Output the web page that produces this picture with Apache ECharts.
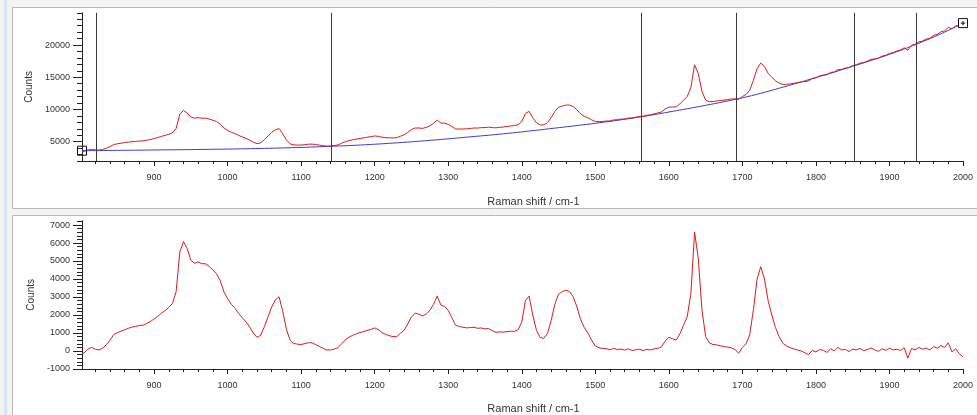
<!DOCTYPE html>
<html><head><meta charset="utf-8">
<script src="https://cdn.jsdelivr.net/npm/echarts@6/dist/echarts.min.js"></script>
<style>html,body{margin:0;padding:0;background:#fff}#c{width:977px;height:415px}</style>
</head><body><div id="c"></div>
<script>
// Raman shift (cm-1) of each sample of the spectrum
const ramanShift = [802,
 805,810,815,820,825,830,835,840,845,850,855,860,865,870,875,880,885,890,895,900,
 905,910,915,920,925,930,935,940,945,950,955,960,965,970,975,980,985,990,995,1000,
 1005,1010,1015,1020,1025,1030,1035,1040,1045,1050,1055,1060,1065,1070,1075,1080,1085,1090,1095,1100,
 1105,1110,1115,1120,1125,1130,1135,1140,1145,1150,1155,1160,1165,1170,1175,1180,1185,1190,1195,1200,
 1205,1210,1215,1220,1225,1230,1235,1240,1245,1250,1255,1260,1265,1270,1275,1280,1285,1290,1295,1300,
 1305,1310,1315,1320,1325,1330,1335,1340,1345,1350,1355,1360,1365,1370,1375,1380,1385,1390,1395,1400,
 1405,1410,1415,1420,1425,1430,1435,1440,1445,1450,1455,1460,1465,1470,1475,1480,1485,1490,1495,1500,
 1505,1510,1515,1520,1525,1530,1535,1540,1545,1550,1555,1560,1565,1570,1575,1580,1585,1590,1595,1600,
 1605,1610,1615,1620,1625,1630,1635,1640,1645,1650,1655,1660,1665,1670,1675,1680,1685,1690,1695,1700,
 1705,1710,1715,1720,1725,1730,1735,1740,1745,1750,1755,1760,1765,1770,1775,1780,1785,1790,1795,1800,
 1805,1810,1815,1820,1825,1830,1835,1840,1845,1850,1855,1860,1865,1870,1875,1880,1885,1890,1895,1900,
 1905,1910,1915,1920,1925,1930,1935,1940,1945,1950,1955,1960,1965,1970,1975,1980,1985,1990,1995,2000];

// Top panel: raw counts (red)
const rawCounts = [3450,
 3500,3700,3810,3720,3680,3780,3980,4240,4540,4670,4760,4840,4930,5000,5040,5110,5120,5230,5340,5490,
 5640,5820,5980,6150,6380,7050,9250,9840,9460,8820,8650,8740,8640,8650,8510,8320,8130,7730,7130,6750,
 6460,6250,5970,5740,5520,5240,4920,4700,4820,5310,5870,6440,6850,7030,6230,5250,4660,4500,4470,4470,
 4540,4610,4620,4540,4460,4380,4300,4340,4410,4500,4750,4990,5170,5290,5400,5500,5590,5690,5770,5890,
 5820,5690,5630,5590,5580,5620,5840,6060,6440,6880,7120,7120,7060,7210,7450,7850,8350,7890,7870,7690,
 7340,6970,6960,6970,6990,7050,7120,7110,7180,7180,7250,7180,7150,7230,7270,7360,7440,7490,7640,8120,
 9380,9700,8710,7930,7590,7610,7950,8740,9700,10320,10540,10680,10670,10440,9950,9320,8940,8710,8380,8130,
 8110,8140,8210,8210,8380,8390,8500,8530,8680,8670,8790,8920,8940,9100,9160,9320,9450,9620,10050,10360,
 10380,10400,10860,11440,12010,13420,16920,15580,12830,11440,11200,11220,11320,11380,11450,11530,11620,11640,11560,12000,
 12340,12980,14520,16360,17190,16660,15620,14980,14440,14100,13890,13900,13960,14060,14160,14270,14340,14410,14810,14900,
 15200,15330,15380,15750,15810,16180,16220,16430,16490,16810,16940,17200,17260,17500,17770,17850,17960,18290,18400,18700,
 18820,19070,19210,19570,19200,19970,20120,20490,20620,20910,21060,21500,21650,22050,22200,22730,22510,22960,22970,23070];

// Bottom panel: baseline-corrected counts (red)
const correctedCounts = [-150,
 -100,100,200,100,60,150,350,600,900,1020,1100,1180,1260,1330,1360,1420,1430,1530,1640,1780,
 1920,2100,2250,2420,2640,3300,5500,6080,5700,5050,4870,4950,4850,4850,4700,4500,4300,3900,3290,2900,
 2600,2380,2085,1850,1620,1330,1000,760,875,1350,1900,2450,2850,3010,2200,1200,600,420,380,360,
 410,460,450,350,250,150,50,60,110,180,400,620,770,870,950,1025,1080,1150,1200,1285,
 1180,1020,920,850,800,800,980,1155,1500,1900,2100,2050,1950,2050,2250,2600,3050,2550,2480,2250,
 1850,1430,1360,1320,1285,1300,1320,1260,1280,1230,1250,1120,1040,1060,1050,1080,1100,1090,1180,1600,
 2800,3050,2000,1150,750,700,980,1700,2600,3150,3300,3380,3300,3010,2450,1750,1300,1000,600,280,
 180,140,130,60,150,80,110,50,120,30,60,100,20,90,60,120,150,220,550,760,
 680,600,950,1430,1900,3200,6600,5150,2300,800,450,360,340,290,250,210,180,80,-120,200,
 400,900,2300,4000,4685,4000,2800,2000,1300,800,430,280,180,120,60,0,-100,-200,30,-50,
 80,40,-80,120,10,200,60,90,-30,110,60,140,20,80,170,60,-20,120,40,150,
 60,100,30,180,-400,140,60,200,100,160,60,250,150,300,200,450,-50,120,-150,-335];

// Top panel: fitted baseline (blue)
const baselineShift = [802,825,850,875,900,925,950,975,1000,1025,1050,1075,1100,1125,1150,1175,1200,1225,1250,1275,1300,
 1325,1350,1375,1400,1425,1450,1475,1500,1525,1550,1575,1600,1625,1650,1675,1700,1725,1750,1775,1800,
 1825,1850,1875,1900,1925,1950,1975,2000];
const baselineCounts = [3600,3620,3650,3680,3710,3740,3770,3810,3850,3900,3960,4030,4110,4210,4320,4450,4600,4780,4980,5200,5440,
 5700,5950,6220,6520,6840,7170,7500,7850,8230,8640,9100,9600,10110,10640,11200,11800,12500,13300,14100,14950,
 15800,16700,17600,18550,19600,20750,22000,23400];

// Baseline anchor positions (vertical lines)
const anchorShifts = [822, 1141, 1562, 1692, 1852, 1936];

// Tick labels
const xTickLabels = [900,1000,1100,1200,1300,1400,1500,1600,1700,1800,1900,2000];
const topYTickLabels = [5000,10000,15000,20000];
const bottomYTickLabels = [-1000,0,1000,2000,3000,4000,5000,6000,7000];

const xMinor = []; for (let v = 820; v <= 2000; v += 20) xMinor.push(v);
const topYMinor = []; for (let v = 2000; v <= 25000; v += 1000) topYMinor.push(v);
const botYMinor = []; for (let v = -1000; v <= 7200; v += 200) botYMinor.push(v);

const FONT = "'Liberation Sans', Arial, sans-serif";
const zip = (a, b) => a.map((x, i) => [x, b[i]]);
const plain = v => String(v);

const X_MIN = 802, X_MAX = 2000;
const TOP_MIN = 2000, TOP_MAX = 25000;
const BOT_MIN = -1000, BOT_MAX = 7240;

function xAxes(grid) {
  return [{
    gridIndex: grid, type: 'value', position: 'bottom', min: X_MIN, max: X_MAX,
    axisLine: { onZero: false, lineStyle: { color: '#222', width: 1 } },
    axisTick: { customValues: xTickLabels, length: 5, lineStyle: { color: '#222' } },
    axisLabel: { customValues: xTickLabels, formatter: plain, margin: 12, fontSize: 9, color: '#333', fontFamily: FONT },
    splitLine: { show: false },
    name: 'Raman shift / cm-1', nameLocation: 'middle', nameGap: grid === 0 ? 35 : 34,
    nameTextStyle: { fontSize: 11, color: '#333', fontFamily: FONT, padding: [0, 0, 0, 22] }
  }, {
    gridIndex: grid, type: 'value', position: 'bottom', offset: 0, min: X_MIN, max: X_MAX,
    axisLine: { show: false, onZero: false },
    axisTick: { customValues: xMinor, length: 3, lineStyle: { color: '#222' } },
    axisLabel: { show: false }, splitLine: { show: false }
  }];
}
function yAxes(grid, min, max, labels, minor) {
  return [{
    gridIndex: grid, type: 'value', position: 'left', min: min, max: max,
    axisLine: { show: true, onZero: false, lineStyle: { color: '#222', width: 1 } },
    axisTick: { show: true, customValues: labels, length: 9, lineStyle: { color: '#222' } },
    axisLabel: { customValues: labels, formatter: plain, margin: 12, fontSize: 9, color: '#333', fontFamily: FONT },
    splitLine: { show: false },
    name: 'Counts', nameLocation: 'middle', nameGap: 46,
    nameTextStyle: { fontSize: 10, color: '#333', fontFamily: FONT }
  }, {
    gridIndex: grid, type: 'value', position: 'left', offset: 0, min: min, max: max,
    axisLine: { show: false, onZero: false },
    axisTick: { show: true, customValues: minor, length: 5, lineStyle: { color: '#222' } },
    axisLabel: { show: false }, splitLine: { show: false }
  }];
}

const chart = echarts.init(document.getElementById('c'), null, { renderer: 'canvas' });
chart.setOption({
  animation: false,
  backgroundColor: '#ffffff',
  graphic: [
    { type: 'rect', z: -10, shape: { x: 0, y: 0, width: 977, height: 415 }, style: { fill: '#f3f3f3' } },
    { type: 'rect', z: -9, shape: { x: 4, y: 0, width: 3, height: 415 }, style: { fill: '#d9e4f1' } },
    { type: 'rect', z: -9, shape: { x: 12.5, y: 7.5, width: 970, height: 201 }, style: { fill: '#ffffff', stroke: '#b8b8b8', lineWidth: 1 } },
    { type: 'rect', z: -9, shape: { x: 12.5, y: 215.5, width: 970, height: 210 }, style: { fill: '#ffffff', stroke: '#b8b8b8', lineWidth: 1 } }
  ],
  grid: [
    { left: 82, right: 14, top: 12.8, height: 148.2 },
    { left: 82, right: 14, top: 220.7, height: 148.3 }
  ],
  xAxis: [...xAxes(0), ...xAxes(1)],
  yAxis: [...yAxes(0, TOP_MIN, TOP_MAX, topYTickLabels, topYMinor), ...yAxes(1, BOT_MIN, BOT_MAX, bottomYTickLabels, botYMinor)],
  series: [
    {
      type: 'line', name: 'baseline', xAxisIndex: 0, yAxisIndex: 0, z: 2,
      data: zip(baselineShift, baselineCounts), smooth: 0.3, showSymbol: false,
      lineStyle: { color: '#3c3cd2', width: 1 },
      markPoint: {
        silent: true, label: { show: false },
        data: [
          { coord: [baselineShift[0], baselineCounts[0]], symbol: 'path://M0 0H10V10H0Z', symbolSize: 9,
            itemStyle: { color: 'rgba(0,0,0,0)', borderColor: '#111', borderWidth: 1 } },
          { coord: [baselineShift[baselineShift.length - 1], baselineCounts[baselineCounts.length - 1]],
            symbol: 'path://M0 0H10V10H0Z M5 2.5V7.5 M2.5 5H7.5', symbolSize: 9,
            itemStyle: { color: '#ffffff', borderColor: '#111', borderWidth: 1 } }
        ]
      }
    },
    {
      type: 'line', name: 'raw', xAxisIndex: 0, yAxisIndex: 0, z: 3,
      data: zip(ramanShift, rawCounts), showSymbol: false,
      lineStyle: { color: '#d81c1c', width: 1 },
      markLine: {
        silent: true, symbol: ['none', 'none'], label: { show: false },
        lineStyle: { color: '#3a3a3a', width: 1, type: 'solid' },
        data: anchorShifts.map(v => ({ xAxis: v }))
      }
    },
    {
      type: 'line', name: 'corrected', xAxisIndex: 2, yAxisIndex: 2, z: 3,
      data: zip(ramanShift, correctedCounts), showSymbol: false,
      lineStyle: { color: '#d81c1c', width: 1 }
    }
  ]
});
</script>
</body></html>
